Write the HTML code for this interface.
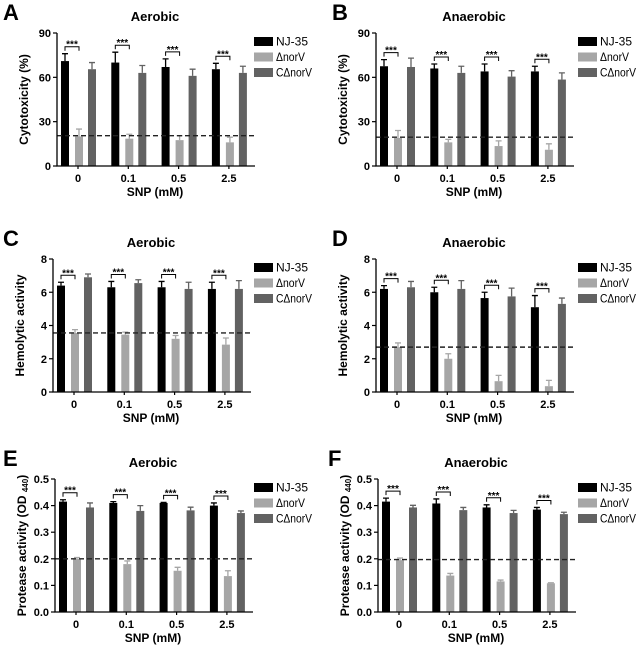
<!DOCTYPE html>
<html><head><meta charset="utf-8"><style>
html,body{margin:0;padding:0;background:#fff}
svg{display:block;font-family:"Liberation Sans",Arial,sans-serif}
</style></head><body>
<svg id="fig" width="640" height="646" viewBox="0 0 640 646"></svg>
<script>
const categories = ["0","0.1","0.5","2.5"];
const seriesNames = ["NJ-35","\u0394norV","C\u0394norV"];
// Panel A
const aNJ=[71,70,67,65.5], aNJe=[5,7,5.5,4];
const aDel=[20,18.5,17.5,16], aDele=[5,3,3,3.5];
const aC=[65.5,63,61,63], aCe=[4.5,5,4.5,4.5];
const aBase=20.5;
// Panel B
const bNJ=[67.5,66,64,64], bNJe=[4.5,3,5,3.5];
const bDel=[19,16,13.5,11], bDele=[5,2,3.5,4];
const bC=[67,63,60.5,58.5], bCe=[6,4.5,4,4.5];
const bBase=19.5;
// Panel C
const cNJ=[6.4,6.3,6.3,6.2], cNJe=[0.2,0.35,0.35,0.4];
const cDel=[3.55,3.45,3.2,2.85], cDele=[0.2,0.15,0.2,0.4];
const cC=[6.9,6.55,6.2,6.2], cCe=[0.2,0.2,0.4,0.5];
const cBase=3.55;
// Panel D
const dNJ=[6.2,6.0,5.65,5.1], dNJe=[0.2,0.3,0.35,0.7];
const dDel=[2.7,2.0,0.65,0.35], dDele=[0.25,0.3,0.35,0.35];
const dC=[6.3,6.2,5.75,5.3], dCe=[0.35,0.5,0.5,0.35];
const dBase=2.7;
// Panel E
const eNJ=[0.415,0.41,0.41,0.40], eNJe=[0.007,0.005,0.002,0.01];
const eDel=[0.2,0.18,0.155,0.135], eDele=[0.005,0.012,0.013,0.02];
const eC=[0.393,0.38,0.382,0.372], eCe=[0.017,0.02,0.012,0.008];
const eBase=0.2;
// Panel F
const fNJ=[0.415,0.408,0.393,0.385], fNJe=[0.013,0.017,0.01,0.008];
const fDel=[0.195,0.137,0.115,0.108], fDele=[0.008,0.008,0.005,0.002];
const fC=[0.393,0.383,0.372,0.368], fCe=[0.008,0.01,0.01,0.007];
const fBase=0.197;
const ticksCyto=["0","30","60","90"];
const ticksHemo=["0","2","4","6","8"];
const ticksProt=["0.0","0.1","0.2","0.3","0.4","0.5"];

const NS="http://www.w3.org/2000/svg";
const svg=document.getElementById('fig');
const colors=["#000000","#a6a6a6","#626262"];
const legendLens=[32,29,36];
function mk(tag,attrs,parent){const e=document.createElementNS(NS,tag);for(const k in attrs)e.setAttribute(k,attrs[k]);(parent||svg).appendChild(e);return e;}

function panel(o){
  const g=mk('g',{});
  
  
  const ax=o.ax, top=o.top, bot=o.top+133, right=ax+198;
  const ymax=parseFloat(o.ticks[o.ticks.length-1]);
  const y=v=>bot-(v/ymax)*(bot-top);
  const gx=i=>ax+21+50.3*i;
  const L=mk('text',{x:o.lx,y:top-13,'font-size':22,'font-weight':'bold'},g);L.textContent=o.letter;
  
  
  const T=mk('text',{x:ax+98,y:top-12,'font-size':13,'font-weight':'bold','text-anchor':'middle'},g);T.textContent=o.title;
  
  
  const series=[[o.nj,o.nje],[o.del,o.dele],[o.c,o.ce]];
  const offs=[-13,1,14];
  series.forEach((s,si)=>{
    s[0].forEach((v,i)=>{
      const cx=gx(i)+offs[si];
      const r=mk('rect',{x:cx-4,y:y(v),width:8,height:bot-y(v),fill:colors[si]},g);
      
      
      const et=y(v+s[1][i]);
      const el=mk('path',{d:`M${cx} ${y(v)}V${et}M${cx-3} ${et}H${cx+3}`,stroke:colors[si],'stroke-width':1.3,fill:'none'},g);
      
      
    });
  });
  o.nj.forEach((v,i)=>{
    const x1=gx(i)-13,x2=gx(i)+1,by=y(v+o.nje[i])-7;
    const b=mk('path',{d:`M${x1} ${by+4}V${by}H${x2}V${by+4}`,stroke:'#000','stroke-width':1,fill:'none'},g);
    
    
    const st=mk('text',{x:(x1+x2)/2,y:by+1,'font-size':10,'font-weight':'bold','text-anchor':'middle'},g);st.textContent='***';
    
    
  });
  const dl=mk('line',{x1:ax,x2:right,y1:y(o.base),y2:y(o.base),stroke:'#222','stroke-width':1.4,'stroke-dasharray':'5,3'},g);
  
  
  const axl=mk('path',{d:`M${ax} ${top}V${bot}H${right}`,stroke:'#000','stroke-width':1.3,fill:'none'},g);
  
  
  o.ticks.forEach(t=>{
    const ty=y(parseFloat(t));
    mk('line',{x1:ax-4,x2:ax,y1:ty,y2:ty,stroke:'#000','stroke-width':1.2},g);
    const tl=mk('text',{x:ax-6,y:ty+4,'font-size':11,'font-weight':'bold','text-anchor':'end'},g);tl.textContent=t;
    
    
  });
  categories.forEach((c,i)=>{
    mk('line',{x1:gx(i),x2:gx(i),y1:bot,y2:bot+3,stroke:'#000','stroke-width':1.2},g);
    const tl=mk('text',{x:gx(i),y:bot+16,'font-size':11,'font-weight':'bold','text-anchor':'middle'},g);tl.textContent=c;
    
    
  });
  const xt=mk('text',{x:ax+98,y:bot+30,'font-size':12,'font-weight':'bold','text-anchor':'middle'},g);xt.textContent='SNP (mM)';
  
  
  const yt=mk('text',{x:0,y:0,'font-size':12,'font-weight':'bold','text-anchor':'middle',transform:`translate(${ax-29},${(top+bot)/2}) rotate(-90)`},g);
  yt.innerHTML=o.ylab;
  
  
  seriesNames.forEach((n,si)=>{
    const ly=top+8+15.5*si;
    const sw=mk('rect',{x:ax+o.lg,y:ly-4,width:19,height:9,fill:colors[si]},g);
    
    
    const lt=mk('text',{x:ax+o.lg+22,y:ly+4.5,'font-size':12,textLength:legendLens[si],lengthAdjust:'spacingAndGlyphs'},g);lt.textContent=n;
    
    
  });
}
const cyto='Cytotoxicity (%)', hemo='Hemolytic activity', prot='Protease activity (OD <tspan font-size="8" dy="2">440</tspan><tspan dy="-2">)</tspan>';
panel({letter:'A',lx:3,title:'Aerobic',ax:57,top:33,lg:197,ticks:ticksCyto,ylab:cyto,nj:aNJ,nje:aNJe,del:aDel,dele:aDele,c:aC,ce:aCe,base:aBase});
panel({letter:'B',lx:332,title:'Anaerobic',ax:376,top:33,lg:202,ticks:ticksCyto,ylab:cyto,nj:bNJ,nje:bNJe,del:bDel,dele:bDele,c:bC,ce:bCe,base:bBase});
panel({letter:'C',lx:3,title:'Aerobic',ax:53,top:259,lg:201,ticks:ticksHemo,ylab:hemo,nj:cNJ,nje:cNJe,del:cDel,dele:cDele,c:cC,ce:cCe,base:cBase});
panel({letter:'D',lx:332,title:'Anaerobic',ax:376,top:259,lg:202,ticks:ticksHemo,ylab:hemo,nj:dNJ,nje:dNJe,del:dDel,dele:dDele,c:dC,ce:dCe,base:dBase});
panel({letter:'E',lx:3,title:'Aerobic',ax:55,top:479,lg:199,ticks:ticksProt,ylab:prot,nj:eNJ,nje:eNJe,del:eDel,dele:eDele,c:eC,ce:eCe,base:eBase});
panel({letter:'F',lx:328,title:'Anaerobic',ax:378,top:479,lg:200,ticks:ticksProt,ylab:prot,nj:fNJ,nje:fNJe,del:fDel,dele:fDele,c:fC,ce:fCe,base:fBase});
</script>
</body></html>
